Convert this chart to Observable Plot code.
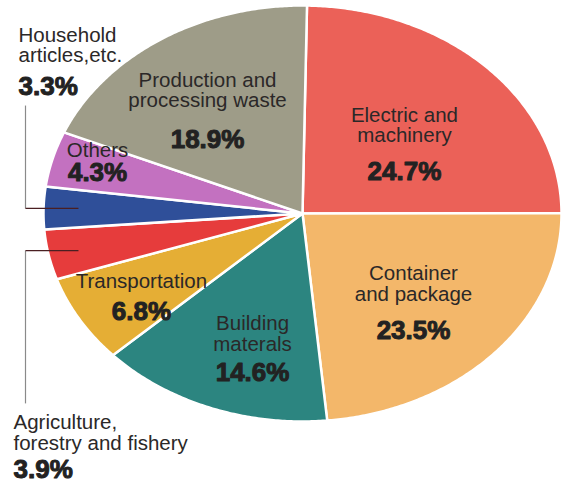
<!DOCTYPE html>
<html>
<head>
<meta charset="utf-8">
<script src="https://cdn.jsdelivr.net/npm/d3@7"></script>
<script src="https://cdn.jsdelivr.net/npm/@observablehq/plot@0.6"></script>
<style>
  html, body { margin: 0; padding: 0; background: #ffffff; }
  #chart { width: 561px; height: 482px; overflow: hidden; }
  #chart svg { display: block; }
</style>
</head>
<body>
<div id="chart"></div>
<script>
// ---- data ----
const categories = [
  "Electric and\nmachinery",
  "Container\nand package",
  "Building\nmaterals",
  "Transportation",
  "Agriculture,\nforestry and fishery",
  "Household\narticles,etc.",
  "Others",
  "Production and\nprocessing waste"
];
const shares = [24.7, 23.5, 14.6, 6.8, 3.9, 3.3, 4.3, 18.9];
const pctLabels = ["24.7%", "23.5%", "14.6%", "6.8%", "3.9%", "3.3%", "4.3%", "18.9%"];

// ---- style / layout ----
const colors = ["#eb6158", "#f3b76a", "#2c8580", "#e5ae35", "#e63c3c", "#2f4f99", "#c371c0", "#9e9c88"];
const startDeg = 1;             // rotation of first slice (clockwise from 12 o'clock)
// inside-label placement: radius factor, angle tweak from mid-angle, gap (px) name->percent
const insideLayout = {
  0: {r: 0.521, dA: 3.6, gap: 38},
  1: {r: 0.599, dA: 2.1, gap: 38},
  2: {r: 0.687, dA: -4.5, gap: 30},
  3: {r: 0.719, dA: 0.6, gap: 32},
  6: {r: 0.836, dA: 3.6, gap: 24},
  7: {r: 0.628, dA: -2.7, gap: 41}
};
// outside labels (unit-ellipse coords) with leader lines
const outsideLayout = {
  5: {x: -1.0965, y: 0.726, gap: 33, lineX: -1.0695, lineEndX: -0.865, lineFromY: 0.519},
  4: {x: -1.1158, y: -1.135, gap: 28, lineX: -1.0695, lineEndX: -0.865, lineFromY: -0.913}
};

// ---- geometry from data ----
const total = d3.sum(shares);
let acc = startDeg;
const slices = categories.map((name, i) => {
  const a0 = acc;
  const a1 = acc + shares[i] / total * 360;
  acc = a1;
  return {name, i, a0, a1, mid: (a0 + a1) / 2};
});
const rad = Math.PI / 180;
const pts = [];
for (const s of slices) {
  pts.push({name: s.name, x: 0, y: 0});
  const n = Math.max(2, Math.ceil((s.a1 - s.a0) / 0.5));
  for (let k = 0; k <= n; k++) {
    const a = (s.a0 + (s.a1 - s.a0) * k / n) * rad;
    pts.push({name: s.name, x: Math.sin(a), y: Math.cos(a)});
  }
  pts.push({name: s.name, x: 0, y: 0});
}

const inside = slices.filter(s => insideLayout[s.i]).map(s => {
  const L = insideLayout[s.i];
  const a = (s.mid + L.dA) * rad;
  return {name: s.name, pct: pctLabels[s.i], x: L.r * Math.sin(a), y: L.r * Math.cos(a), gap: L.gap};
});
const outside = slices.filter(s => outsideLayout[s.i]).map(s => {
  const L = outsideLayout[s.i];
  const ly = 0.9 * Math.cos(s.mid * rad);
  return {name: s.name, pct: pctLabels[s.i], x: L.x, y: L.y, gap: L.gap,
          vx: L.lineX, vy1: L.lineFromY, vy2: ly, hx2: L.lineEndX};
});

const font = "'Liberation Sans', Arial, Helvetica, sans-serif";
const textColor = "#2b2828";
const marks = [
  Plot.line(pts, {x: "x", y: "y", z: "name", fill: "name", stroke: "white", strokeWidth: 2.5, strokeLinejoin: "round"}),
  Plot.link(outside, {x1: "vx", y1: "vy1", x2: "vx", y2: "vy2", stroke: "#8a8a8a", strokeWidth: 1.2}),
  Plot.link(outside, {x1: "vx", y1: "vy2", x2: "hx2", y2: "vy2", stroke: "#4a1f22", strokeWidth: 1.2})
];
for (const l of inside) {
  marks.push(Plot.text([l], {x: "x", y: "y", text: "name", textAnchor: "middle", lineAnchor: "bottom",
    lineHeight: 1.0, fontSize: 20.5, fill: textColor}));
  marks.push(Plot.text([l], {x: "x", y: "y", text: "pct", textAnchor: "middle", lineAnchor: "bottom",
    dy: l.gap, fontSize: 26, fontWeight: "bold", fill: "#222", stroke: "#222", strokeWidth: 1}));
}
for (const l of outside) {
  marks.push(Plot.text([l], {x: "x", y: "y", text: "name", textAnchor: "start", lineAnchor: "bottom",
    lineHeight: 1.02, fontSize: 20.5, fill: textColor}));
  marks.push(Plot.text([l], {x: "x", y: "y", text: "pct", textAnchor: "start", lineAnchor: "bottom",
    dy: l.gap, fontSize: 26, fontWeight: "bold", fill: "#222", stroke: "#222", strokeWidth: 1}));
}

const chart = Plot.plot({
  width: 561,
  height: 482,
  marginLeft: 43,
  marginRight: 0,
  marginTop: 5,
  marginBottom: 61,
  x: {domain: [-1, 1], axis: null},
  y: {domain: [-1, 1], axis: null},
  color: {domain: categories, range: colors},
  style: {fontFamily: font, background: "#ffffff", overflow: "visible"},
  marks
});
document.getElementById("chart").appendChild(chart);
</script>
</body>
</html>
